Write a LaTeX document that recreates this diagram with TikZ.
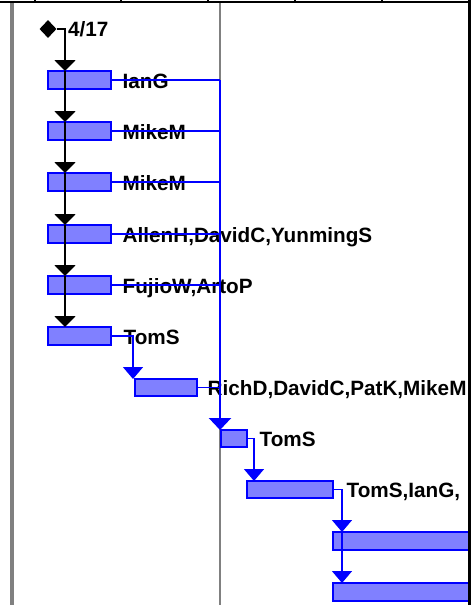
\documentclass[tikz,border=0pt]{standalone}
\usepackage{fontspec}
\setmainfont{Liberation Sans}
\usetikzlibrary{arrows.meta,shapes.geometric}
\definecolor{barfill}{HTML}{8080FF}
\definecolor{barline}{HTML}{0000FF}
\definecolor{gridgray}{HTML}{808080}
\begin{document}
\begin{tikzpicture}[x=1pt,y=-1pt,
 bar/.style={draw=barline,fill=barfill,line width=1.5pt,rectangle,inner sep=0pt,outer sep=0pt,anchor=north west},
 lab/.style={font=\fontsize{20.7}{24}\selectfont\bfseries,inner sep=0pt,anchor=base west},
 blackflow/.style={draw=black,line width=2pt,-{Triangle[width=21pt,length=11pt]}},
 trunk/.style={draw=barline,line width=2.4pt,-{Triangle[width=22pt,length=12pt]}},
 link/.style={draw=barline,line width=1.5pt,-{Triangle[width=20pt,length=12pt]}},
 feed/.style={draw=barline,line width=1.2pt},
 ]
\useasboundingbox (0,0) rectangle (476,605);
\fill[white] (0,0) rectangle (476,605);
% grid lines
\draw[gridgray,line width=4pt] (12,3) -- (12,605);
\draw[gridgray,line width=2pt] (220,3) -- (220,605);
\begin{scope}
\clip (0,0) rectangle (468.3,605);
% bars
\node[bar,minimum width=63pt,minimum height=18pt] (b1) at (48,71) {};
\node[bar,minimum width=63pt,minimum height=18pt] (b2) at (48,122) {};
\node[bar,minimum width=63pt,minimum height=18pt] (b3) at (48,173) {};
\node[bar,minimum width=63pt,minimum height=18pt] (b4) at (48,225) {};
\node[bar,minimum width=63pt,minimum height=18pt] (b5) at (48,276) {};
\node[bar,minimum width=63pt,minimum height=18pt] (b6) at (48,327) {};
\node[bar,minimum width=62pt,minimum height=17pt] (b7) at (135,379) {};
\node[bar,minimum width=26pt,minimum height=17pt] (b8) at (221,430) {};
\node[bar,minimum width=86pt,minimum height=17pt] (b9) at (247,481) {};
\node[bar,minimum width=160pt,minimum height=18pt] (b10) at (333,532) {};
\node[bar,minimum width=160pt,minimum height=18pt] (b11) at (333,583) {};
% milestone
\node[diamond,fill=black,minimum width=17pt,minimum height=18pt,inner sep=0pt] (dia) at (48,29) {};
\node[lab] (l0) at (68,36) {4/17};
% labels
\node[lab] (l1) at ([xshift=11.5pt,yshift=1pt]b1.south east) {IanG};
\node[lab] (l2) at ([xshift=11.5pt,yshift=1pt]b2.south east) {MikeM};
\node[lab] (l3) at ([xshift=11.5pt,yshift=1pt]b3.south east) {MikeM};
\node[lab] (l4) at ([xshift=11.5pt,yshift=1pt]b4.south east) {AllenH,DavidC,YunmingS};
\node[lab] (l5) at ([xshift=11.5pt,yshift=1pt]b5.south east) {FujioW,ArtoP};
\node[lab] (l6) at ([xshift=12.5pt,yshift=1pt]b6.south east) {TomS};
\node[lab] (l7) at ([xshift=10.5pt,yshift=1pt]b7.south east) {RichD,DavidC,PatK,MikeM};
\node[lab] (l8) at ([xshift=12.5pt,yshift=1pt]b8.south east) {TomS};
\node[lab] (l9) at ([xshift=13.5pt,yshift=1pt]b9.south east) {TomS,IanG,};
% black precedence chain
\coordinate (k1) at ([xshift=17pt]b1.north west);
\coordinate (k2) at ([xshift=17pt]b2.north west);
\coordinate (k3) at ([xshift=17pt]b3.north west);
\coordinate (k4) at ([xshift=17pt]b4.north west);
\coordinate (k5) at ([xshift=17pt]b5.north west);
\coordinate (k6) at ([xshift=17pt]b6.north west);
\draw[blackflow] (dia) -| (k1);
\draw[blackflow] (k1) -- (k2);
\draw[blackflow] (k2) -- (k3);
\draw[blackflow] (k3) -- (k4);
\draw[blackflow] (k4) -- (k5);
\draw[blackflow] (k5) -- (k6);
% blue trunk
\coordinate (tr) at (220,80);
\draw[feed] (b1.east) -- (tr);
\draw[feed] (b2.east) -- (b2.east -| tr);
\draw[feed] (b3.east) -- (b3.east -| tr);
\draw[feed] (b4.east) -- (b4.east -| tr);
\draw[feed] (b5.east) -- (b5.east -| tr);
\draw[feed] (b7.east) -- (b7.east -| tr);
\draw[trunk] (tr) -- (tr |- b8.north);
% blue links
\draw[link] (b6.east) -| ([xshift=-2pt]b7.north west);
\draw[link] (b8.east) -| ([xshift=7pt]b9.north west);
\draw[link] (b9.east) -| ([xshift=9pt]b10.north west);
\draw[link] ([xshift=9pt]b10.north west) -- ([xshift=9pt]b11.north west);
\end{scope}
% frame lines
\draw[line width=1.8pt] (0,1.8) -- (470.7,1.8);
\foreach \x in {35,121,208,295,382} \draw[line width=1.5pt] (\x,0) -- (\x,2.7);
\draw[line width=2.5pt] (469.5,0) -- (469.5,605);
\end{tikzpicture}
\end{document}
